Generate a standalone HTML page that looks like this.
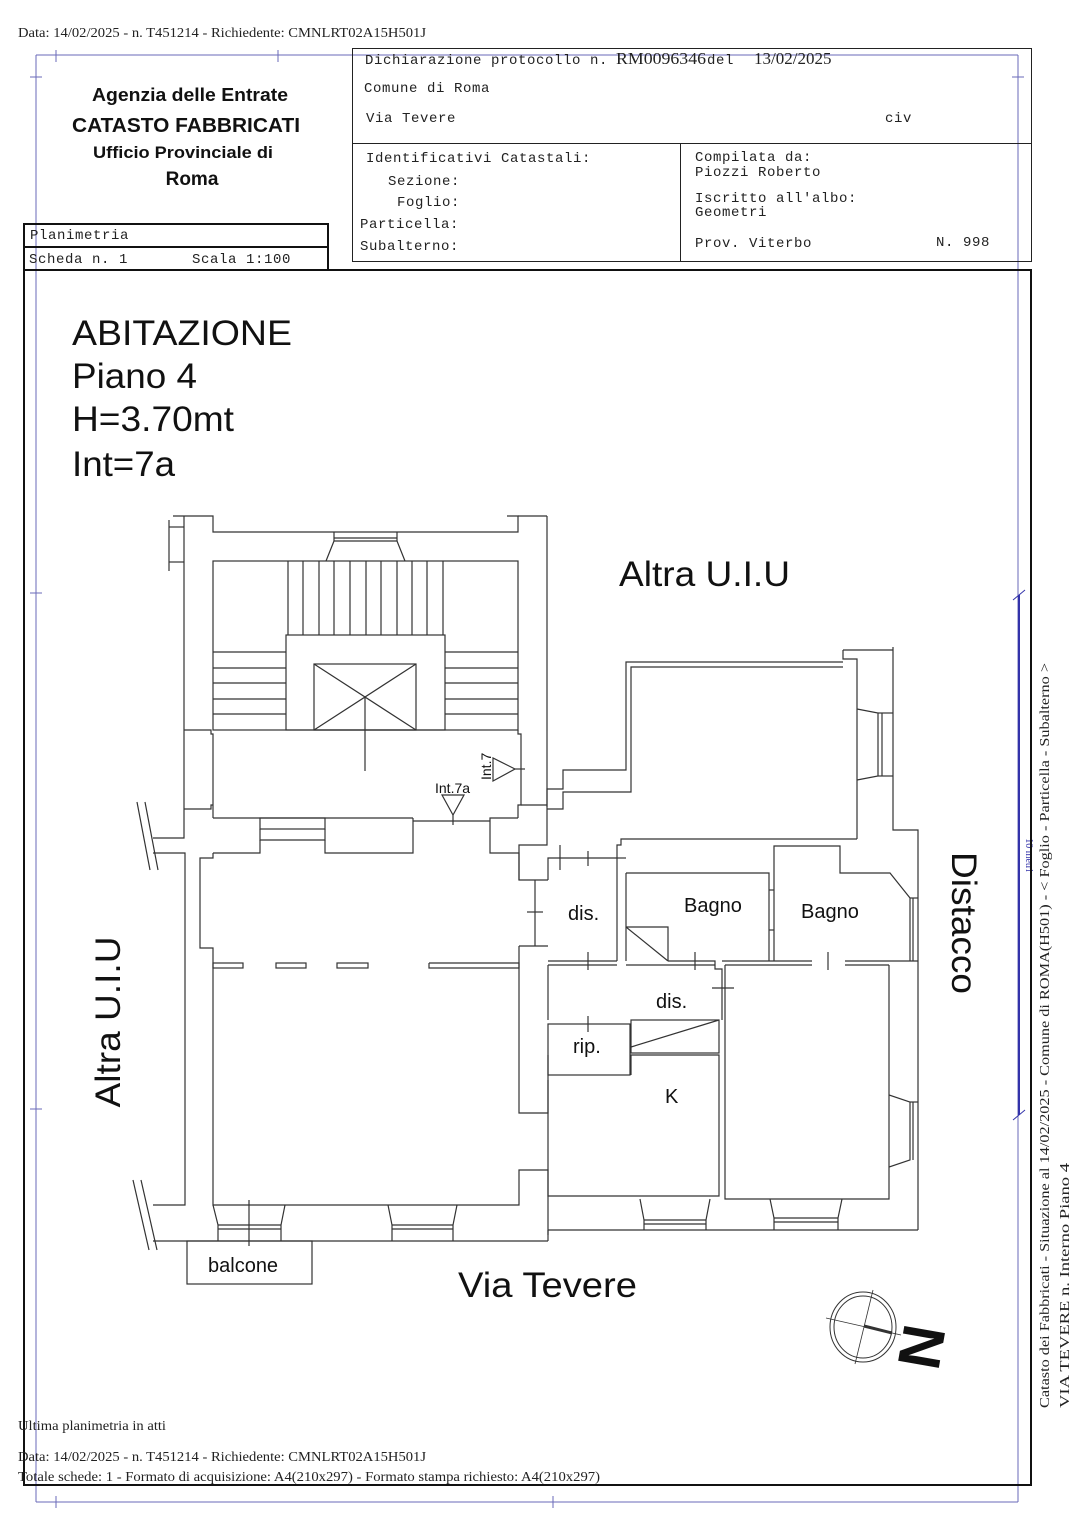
<!DOCTYPE html>
<html><head><meta charset="utf-8"><style>
html,body{margin:0;padding:0;background:#fff}
svg{display:block}
.m{font-family:"Liberation Mono",monospace;font-size:14px;letter-spacing:0.6px;fill:#222}
.s{font-family:"Liberation Serif",serif;fill:#222}
.a{font-family:"Liberation Sans",sans-serif;fill:#111}
</style></head><body>
<svg width="1086" height="1536" viewBox="0 0 1086 1536" xmlns="http://www.w3.org/2000/svg">
<rect width="1086" height="1536" fill="#fff"/>
<text class="s" x="18" y="37" font-size="14" textLength="408" lengthAdjust="spacingAndGlyphs">Data: 14/02/2025 - n. T451214 - Richiedente: CMNLRT02A15H501J</text>
<g stroke="#6a6ab8" stroke-width="1" fill="none">
<line x1="36" y1="55" x2="1018" y2="55"/>
<line x1="36" y1="55" x2="36" y2="1502"/>
<line x1="1018" y1="55" x2="1018" y2="1502"/>
<line x1="36" y1="1502" x2="1018" y2="1502"/>
<line x1="56" y1="50" x2="56" y2="62"/><line x1="278" y1="50" x2="278" y2="62"/>
<line x1="30" y1="77" x2="42" y2="77"/><line x1="1012" y1="77" x2="1024" y2="77"/>
<line x1="30" y1="593" x2="42" y2="593"/><line x1="30" y1="1109" x2="42" y2="1109"/>
<line x1="56" y1="1496" x2="56" y2="1508"/><line x1="553" y1="1496" x2="553" y2="1508"/>
</g>
<g stroke="#3333aa" stroke-width="2"><line x1="1019" y1="595" x2="1019" y2="1115"/></g>
<g stroke="#3333aa" stroke-width="1"><line x1="1013" y1="600" x2="1025" y2="590"/><line x1="1013" y1="1120" x2="1025" y2="1110"/></g>
<text x="1026" y="855" font-family="Liberation Serif,serif" font-size="10" fill="#3333aa" transform="rotate(90 1026 855)" text-anchor="middle">10 metri</text>
<g stroke="#222" stroke-width="1" fill="none">
<rect x="352.5" y="48.5" width="679" height="213"/>
<line x1="352" y1="143.5" x2="1031" y2="143.5"/>
<line x1="680.5" y1="143" x2="680.5" y2="261"/>
</g>
<g stroke="#111" stroke-width="2" fill="none">
<rect x="24" y="224" width="304" height="23"/>
<rect x="24" y="247" width="304" height="23"/>
<rect x="24" y="270" width="1007" height="1215"/>
</g>
<text class="a" x="190" y="101" font-size="18" font-weight="bold" text-anchor="middle" textLength="196" lengthAdjust="spacingAndGlyphs">Agenzia delle Entrate</text>
<text class="a" x="186" y="132" font-size="20" font-weight="bold" text-anchor="middle" textLength="228" lengthAdjust="spacingAndGlyphs">CATASTO FABBRICATI</text>
<text class="a" x="183" y="158" font-size="17" font-weight="bold" text-anchor="middle" textLength="180" lengthAdjust="spacingAndGlyphs">Ufficio Provinciale di</text>
<text class="a" x="192" y="185" font-size="19" font-weight="bold" text-anchor="middle">Roma</text>
<text class="m" x="30" y="239">Planimetria</text>
<text class="m" x="29" y="263">Scheda n. 1</text>
<text class="m" x="192" y="263">Scala 1:100</text>
<text class="m" x="365" y="64" textLength="243">Dichiarazione protocollo n.</text>
<text class="s" x="616" y="64" font-size="17" textLength="90" lengthAdjust="spacingAndGlyphs">RM0096346</text>
<text class="m" x="707" y="64">del</text>
<text class="s" x="754" y="64" font-size="17">13/02/2025</text>
<text class="m" x="364" y="92">Comune di Roma</text>
<text class="m" x="366" y="122">Via Tevere</text>
<text class="m" x="885" y="122">civ</text>
<text class="m" x="366" y="162">Identificativi Catastali:</text>
<text class="m" x="388" y="185">Sezione:</text>
<text class="m" x="397" y="206">Foglio:</text>
<text class="m" x="360" y="228">Particella:</text>
<text class="m" x="360" y="250">Subalterno:</text>
<text class="m" x="695" y="161">Compilata da:</text>
<text class="m" x="695" y="176">Piozzi Roberto</text>
<text class="m" x="695" y="202">Iscritto all'albo:</text>
<text class="m" x="695" y="216">Geometri</text>
<text class="m" x="695" y="247">Prov. Viterbo</text>
<text class="m" x="936" y="246">N. 998</text>
<text class="a" x="72" y="345" font-size="35" textLength="220" lengthAdjust="spacingAndGlyphs">ABITAZIONE</text>
<text class="a" x="72" y="388" font-size="35" textLength="125" lengthAdjust="spacingAndGlyphs">Piano 4</text>
<text class="a" x="72" y="431" font-size="35" textLength="162" lengthAdjust="spacingAndGlyphs">H=3.70mt</text>
<text class="a" x="72" y="476" font-size="35" textLength="103" lengthAdjust="spacingAndGlyphs">Int=7a</text>
<text class="a" x="619" y="586" font-size="35" textLength="171" lengthAdjust="spacingAndGlyphs">Altra U.I.U</text>
<text class="a" x="458" y="1297" font-size="35" textLength="179" lengthAdjust="spacingAndGlyphs">Via Tevere</text>
<text class="a" x="120" y="1022" font-size="35" text-anchor="middle" transform="rotate(-90 120 1022)" textLength="171" lengthAdjust="spacingAndGlyphs">Altra U.I.U</text>
<text class="a" x="952" y="923" font-size="35" text-anchor="middle" transform="rotate(90 952 923)" textLength="142" lengthAdjust="spacingAndGlyphs">Distacco</text>
<g stroke="#333" stroke-width="1.2" fill="none">
<polyline points="173,516 213,516 213,532 518,532 518,516 507,516"/>
<line x1="518" y1="516" x2="547" y2="516"/>
<polyline points="169,520 169,571"/><line x1="169" y1="527" x2="184" y2="527"/><line x1="169" y1="562" x2="184" y2="562"/>
<line x1="184" y1="516" x2="184" y2="818"/>
<line x1="547" y1="516" x2="547" y2="731"/>
<rect x="213" y="561" width="305" height="169"/>
<polyline points="326,561 334,541 397,541 405,561"/><line x1="334" y1="532" x2="334" y2="541"/><line x1="397" y1="532" x2="397" y2="541"/><line x1="334" y1="538" x2="397" y2="538"/>
<path d="M288 561V635M303 561V635M319 561V635M334 561V635M350 561V635M366 561V635M381 561V635M397 561V635M412 561V635M427 561V635M443 561V635"/>
<rect x="286" y="635" width="159" height="95"/>
<path d="M213 652H286M213 668H286M213 683H286M213 699H286M213 714H286M445 652H518M445 668H518M445 683H518M445 699H518M445 714H518"/>
<rect x="314" y="664" width="102" height="66"/>
<path d="M314 664L416 730M416 664L314 730M365 697V771"/>
<polyline points="184,730 211,730 211,734 213,734 213,818"/>
<polyline points="184,809 211,809 211,805 213,805"/>
<polyline points="518,730 518,734 521,734 521,805 518,805 518,818"/>
<line x1="213" y1="818" x2="413" y2="818"/>
<line x1="413" y1="821" x2="490" y2="821"/>
<polyline points="413,818 413,821"/>
<polyline points="490,821 490,818 518,818"/>
<line x1="547" y1="731" x2="547" y2="807"/>
<line x1="521" y1="805" x2="547" y2="805"/>
<rect x="260" y="818" width="65" height="11"/>
<polygon points="493,758 493,781 515,769"/><line x1="515" y1="769" x2="525" y2="769"/>
<polygon points="442,795 464,795 453,815"/><line x1="453" y1="815" x2="453" y2="825"/>
<polyline points="153,838 184,838 184,818"/>
<polyline points="153,853 185,853 185,1205 153,1205"/>
<polyline points="153,1241 213,1241"/>
<polyline points="260,829 260,840 325,840 325,829"/>
<polyline points="213,853 213,858 200,858 200,948 213,948 213,1205 519,1205 519,1170 548,1170 548,1235"/>
<polyline points="213,853 260,853 260,840"/>
<polyline points="325,840 325,853 413,853 413,821"/>
<polyline points="490,821 490,853 519,853 519,880 548,880"/>
<line x1="535" y1="880" x2="535" y2="946"/><line x1="527" y1="912" x2="543" y2="912"/>
<polyline points="519,946 519,1113 548,1113 548,1055"/>
<rect x="213" y="963" width="30" height="5"/>
<rect x="276" y="963" width="30" height="5"/>
<rect x="337" y="963" width="31" height="5"/>
<polyline points="429,963 519,963 519,968 429,968 429,963"/>
<line x1="519" y1="946" x2="548" y2="946"/>
<polyline points="213,1205 218,1225 218,1241"/><polyline points="285,1205 281,1225 281,1241"/>
<line x1="218" y1="1225" x2="281" y2="1225"/><line x1="218" y1="1229" x2="281" y2="1229"/>
<polyline points="388,1205 392,1225 392,1241"/><polyline points="457,1205 453,1225 453,1241"/>
<line x1="392" y1="1225" x2="453" y2="1225"/><line x1="392" y1="1229" x2="453" y2="1229"/>
<line x1="249" y1="1200" x2="249" y2="1246"/>
<line x1="213" y1="1241" x2="548" y2="1241"/>
<line x1="548" y1="1230" x2="918" y2="1230"/>
<line x1="548" y1="1230" x2="548" y2="1241"/>
<rect x="187" y="1241" width="125" height="43"/>
<path d="M137 802L150 870M145 802L158 870M133 1180L149 1250M141 1180L157 1250"/>
<polyline points="547,807 547,789 563,789 563,770 626,770 626,662 843,662"/>
<polyline points="567,792 567,792 631,792 631,667 843,667"/>
<polyline points="547,809 563,809 563,792 567,792"/>
<polyline points="843,650 843,659 857,659 857,692"/>
<line x1="857" y1="692" x2="857" y2="839"/>
<line x1="631" y1="839" x2="857" y2="839"/>
<polyline points="857,709 878,713 878,776 857,780"/>
<line x1="878" y1="713" x2="893" y2="713"/><line x1="878" y1="776" x2="893" y2="776"/>
<line x1="882" y1="713" x2="882" y2="776"/>
<line x1="843" y1="650" x2="893" y2="650"/>
<polyline points="893,647 893,830 918,830 918,1230"/>
<polyline points="547,807 547,845 519,845 519,880"/>
<line x1="560" y1="845" x2="560" y2="870"/>
<polyline points="548,880 548,858 617,858 617,845 621,845 621,839 631,839"/>
<line x1="588" y1="851" x2="588" y2="866"/>
<polyline points="617,858 617,961"/><polyline points="626,873 626,961"/>
<line x1="617" y1="858" x2="626" y2="858"/>
<polyline points="626,873 769,873 769,961"/>
<polyline points="774,961 774,846 840,846 840,873 890,873 910,898 910,961"/>
<line x1="769" y1="890" x2="774" y2="890"/><line x1="769" y1="930" x2="774" y2="930"/>
<polyline points="626,927 668,927 668,961"/><line x1="626" y1="927" x2="668" y2="961"/>
<polyline points="910,898 918,898"/><line x1="913" y1="898" x2="913" y2="961"/>
<polyline points="548,961 617,961"/><polyline points="548,965 548,1020"/>
<line x1="548" y1="965" x2="617" y2="965"/>
<polyline points="668,961 715,961 715,969 722,969 722,1020"/>
<line x1="626" y1="965" x2="715" y2="965"/>
<line x1="722" y1="961" x2="812" y2="961"/><line x1="845" y1="961" x2="918" y2="961"/>
<line x1="725" y1="965" x2="812" y2="965"/><line x1="845" y1="965" x2="889" y2="965"/>
<line x1="588" y1="952" x2="588" y2="970"/><line x1="695" y1="952" x2="695" y2="970"/><line x1="828" y1="952" x2="828" y2="970"/>
<line x1="712" y1="988" x2="734" y2="988"/>
<polyline points="725,965 725,1199 889,1199 889,965"/>
<polyline points="889,1095 910,1102 910,1160 889,1167"/>
<line x1="910" y1="1102" x2="918" y2="1102"/><line x1="913" y1="1102" x2="913" y2="1160"/>
<rect x="548" y="1024" width="82" height="51"/>
<line x1="588" y1="1016" x2="588" y2="1032"/>
<rect x="631" y="1020" width="88" height="33"/>
<line x1="631" y1="1047" x2="719" y2="1020"/>
<polyline points="548,1080 548,1196 719,1196 719,1055 631,1055 631,1075"/>
<polyline points="640,1199 644,1220 644,1230"/><polyline points="710,1199 706,1220 706,1230"/>
<line x1="644" y1="1220" x2="706" y2="1220"/><line x1="644" y1="1224" x2="706" y2="1224"/>
<polyline points="770,1199 774,1218 774,1230"/><polyline points="842,1199 838,1218 838,1230"/>
<line x1="774" y1="1218" x2="838" y2="1218"/><line x1="774" y1="1222" x2="838" y2="1222"/>
</g>
<text class="a" x="435" y="793" font-size="14">Int.7a</text>
<text class="a" x="491" y="780" font-size="14" transform="rotate(-90 491 780)">Int.7</text>
<text class="a" x="568" y="920" font-size="20">dis.</text>
<text class="a" x="684" y="912" font-size="20">Bagno</text>
<text class="a" x="801" y="918" font-size="20">Bagno</text>
<text class="a" x="656" y="1008" font-size="20">dis.</text>
<text class="a" x="573" y="1053" font-size="20">rip.</text>
<text class="a" x="665" y="1103" font-size="20">K</text>
<text class="a" x="208" y="1272" font-size="20">balcone</text>
<g stroke="#333" fill="none">
<ellipse cx="863" cy="1327" rx="33" ry="35" stroke-width="1"/>
<ellipse cx="863" cy="1327" rx="29" ry="31" stroke-width="1"/>
<line x1="826" y1="1318" x2="901" y2="1335" stroke-width="0.8"/>
<line x1="873" y1="1290" x2="855" y2="1364" stroke-width="0.8"/>
<line x1="864" y1="1326" x2="892" y2="1333" stroke-width="3"/>
</g>
<text class="a" x="905" y="1322" font-size="60" font-weight="bold" transform="rotate(100 905 1322)">N</text>
<text class="s" x="18" y="1430" font-size="14" textLength="148" lengthAdjust="spacingAndGlyphs">Ultima planimetria in atti</text>
<text class="s" x="18" y="1461" font-size="14" textLength="408" lengthAdjust="spacingAndGlyphs">Data: 14/02/2025 - n. T451214 - Richiedente: CMNLRT02A15H501J</text>
<text class="s" x="18" y="1481" font-size="14" textLength="582" lengthAdjust="spacingAndGlyphs">Totale schede: 1 - Formato di acquisizione: A4(210x297)  - Formato stampa richiesto: A4(210x297)</text>
<text class="s" x="1049" y="1408" font-size="14" transform="rotate(-90 1049 1408)" textLength="745" lengthAdjust="spacingAndGlyphs">Catasto dei Fabbricati - Situazione al 14/02/2025 - Comune di ROMA(H501) - &lt; Foglio          - Particella          - Subalterno          &gt;</text>
<text class="s" x="1069" y="1408" font-size="14" transform="rotate(-90 1069 1408)" textLength="245" lengthAdjust="spacingAndGlyphs">VIA TEVERE n.          Interno          Piano 4</text>
</svg>
</body></html>
